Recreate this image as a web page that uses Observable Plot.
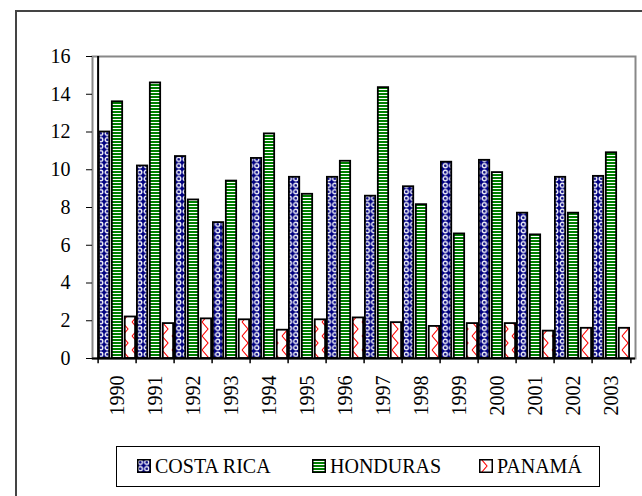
<!DOCTYPE html>
<html>
<head>
<meta charset="utf-8">
<script src="https://cdn.jsdelivr.net/npm/d3@7"></script>
<script src="https://cdn.jsdelivr.net/npm/@observablehq/plot@0.6"></script>
<style>
  html, body { margin: 0; padding: 0; width: 642px; height: 496px; overflow: hidden; background: #fff; font-family: "Liberation Serif", "Times New Roman", serif; }
  #outer { position: absolute; left: 15px; top: 10px; width: 700px; height: 600px; border: 2px solid #444; box-sizing: border-box; }
  #chart { position: absolute; left: 0; top: 0; }
  #legend { position: absolute; left: 116px; top: 446px; width: 484px; height: 41px; border: 1.5px solid #000; box-sizing: border-box; background: #fff; }
  .item { position: absolute; top: 0; height: 38px; display: flex; align-items: center; font-family: "Liberation Serif", serif; font-size: 20px; color: #000; white-space: nowrap; }
  .item span { font-family: "Liberation Serif", serif; }
  .item svg { margin-right: 4px; }
</style>
</head>
<body>
<div id="outer"></div>
<div id="chart"></div>
<div id="legend"></div>
<svg width="0" height="0" style="position:absolute">
  <defs>
    <pattern id="crPat" patternUnits="userSpaceOnUse" width="6.5" height="6.5">
      <rect width="6.5" height="6.5" fill="#000080"></rect>
      <circle cx="3.25" cy="3.25" r="2.1" fill="none" stroke="#fff" stroke-width="1.3"></circle>
    </pattern>
    <pattern id="hnPat" patternUnits="userSpaceOnUse" width="4" height="3">
      <rect width="4" height="3" fill="#fff"></rect>
      <rect width="4" height="2" fill="#008000"></rect>
    </pattern>
    <pattern id="paPat" patternUnits="userSpaceOnUse" width="10" height="14">
      <rect width="10" height="14" fill="#fff"></rect>
      <path d="M2,0 L8,7 L2,14" fill="none" stroke="#ff0000" stroke-width="1.1"></path>
    </pattern>
  </defs>
</svg>
<script>
const years = ["1990","1991","1992","1993","1994","1995","1996","1997","1998","1999","2000","2001","2002","2003"];
const costaRica = [12.0,10.2,10.7,7.2,10.6,9.6,9.6,8.6,9.1,10.4,10.5,7.7,9.6,9.65];
const honduras = [13.6,14.6,8.4,9.4,11.9,8.7,10.45,14.35,8.15,6.6,9.85,6.55,7.7,10.9];
const panama = [2.2,1.85,2.1,2.05,1.5,2.05,2.15,1.9,1.7,1.85,1.85,1.45,1.6,1.6];
const seriesNames = ["COSTA RICA","HONDURAS","PANAMÁ"];
const yTicks = [0,2,4,6,8,10,12,14,16];

const seriesValues = [costaRica, honduras, panama];
const fills = ["url(#crPat)","url(#hnPat)","url(#paPat)"];

const W = 642, H = 430, ML = 92, MR = 7, MT = 56, MB = 72;
const bw = (W - ML - MR) / years.length;
const third = bw / 3;

const barMarks = seriesValues.map((vals, k) =>
  Plot.barY(years.map((y, i) => ({year: y, value: vals[i]})), {
    x: "year", y: "value",
    fill: fills[k], stroke: "#000", strokeWidth: 1.8,
    insetLeft: k * third + 0.9, insetRight: (2 - k) * third + 0.9
  })
);

const chart = Plot.plot({
  width: W, height: H,
  marginLeft: ML, marginRight: MR, marginTop: MT, marginBottom: MB,
  style: {fontFamily: "'Liberation Serif', 'Times New Roman', serif", fontSize: "20px", color: "#000", background: "transparent", overflow: "visible"},
  x: {domain: years, padding: 0, axis: null, label: null},
  y: {domain: [0, 16], axis: null, label: null},
  marks: [
    Plot.frame({stroke: "#888", strokeWidth: 2}),
    ...barMarks,
    Plot.ruleY([0], {stroke: "#000", strokeWidth: 2}),
    Plot.ruleX([years[0]], {dx: -bw / 2, stroke: "#000", strokeWidth: 2}),
    Plot.ruleX(years, {x: d => d, dx: -bw / 2, y1: 0, y2: -0.28, stroke: "#000", strokeWidth: 1.5}),
    Plot.ruleX([years[years.length - 1]], {dx: bw / 2, y1: 0, y2: -0.28, stroke: "#000", strokeWidth: 1.5}),
    Plot.axisY({ticks: yTicks, tickSize: 6, tickPadding: 16, tickFormat: d => String(d), fontSize: 20, label: null}),
    Plot.axisX({tickRotate: -90, tickSize: 0, tickPadding: 17, fontSize: 20, label: null})
  ]
});
document.getElementById("chart").appendChild(chart);

// legend
const legend = document.getElementById("legend");
const lx = [20, 195, 362];
seriesNames.forEach((name, k) => {
  const item = document.createElement("div");
  item.className = "item";
  item.style.left = lx[k] + "px";
  item.innerHTML = `<svg width="14" height="14"><rect x="0.75" y="0.75" width="12.5" height="12.5" fill="${fills[k]}" stroke="#000" stroke-width="1.5"></rect></svg><span>${name}</span>`;
  legend.appendChild(item);
});
</script>
</body>
</html>
